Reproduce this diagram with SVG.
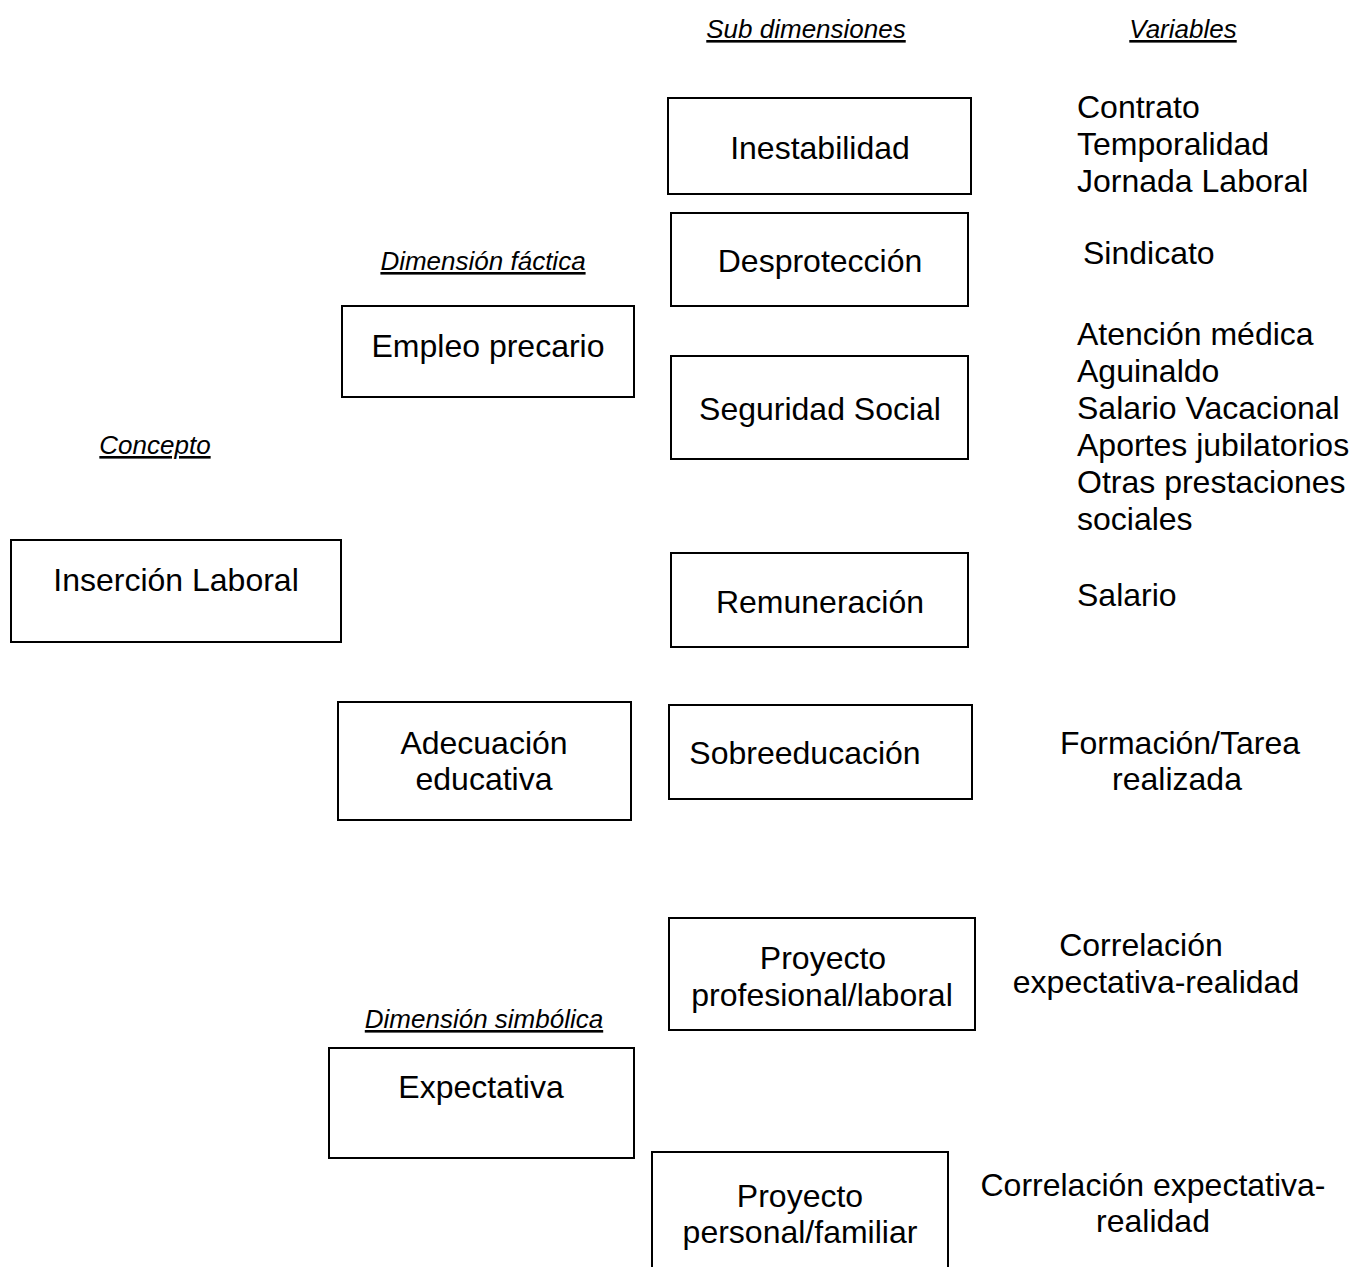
<svg xmlns="http://www.w3.org/2000/svg" width="1353" height="1267" viewBox="0 0 1353 1267">
<style>
text{font-family:"Liberation Sans",Arial,sans-serif;fill:#000}
.t{font-size:32px}
.h{font-size:26px;font-style:italic;text-decoration:underline}
.m{text-anchor:middle}
.box{fill:#fff;stroke:#000;stroke-width:2}
</style>
<rect x="0" y="0" width="1353" height="1267" fill="#fff"/>
<g id="headers">
<text class="h m" x="806" y="38">Sub dimensiones</text>
<text class="h m" x="1183" y="38">Variables</text>
<text class="h m" x="483" y="270">Dimensión fáctica</text>
<text class="h m" x="155" y="454">Concepto</text>
<text class="h m" x="484" y="1028">Dimensión simbólica</text>
</g>
<g id="connectors"></g>
<g id="n-insercion"><rect class="box" x="11" y="540" width="330" height="102"/><text class="t m" x="176" y="591">Inserción Laboral</text></g>
<g id="n-empleo"><rect class="box" x="342" y="306" width="292" height="91"/><text class="t m" x="488" y="357">Empleo precario</text></g>
<g id="n-adecuacion"><rect class="box" x="338" y="702" width="293" height="118"/><text class="t m" x="484" y="754">Adecuación</text><text class="t m" x="484" y="790">educativa</text></g>
<g id="n-expectativa"><rect class="box" x="329" y="1048" width="305" height="110"/><text class="t m" x="481" y="1098">Expectativa</text></g>
<g id="n-inestabilidad"><rect class="box" x="668" y="98" width="303" height="96"/><text class="t m" x="820" y="159">Inestabilidad</text></g>
<g id="n-desproteccion"><rect class="box" x="671" y="213" width="297" height="93"/><text class="t m" x="820" y="272">Desprotección</text></g>
<g id="n-seguridad"><rect class="box" x="671" y="356" width="297" height="103"/><text class="t m" x="820" y="420">Seguridad Social</text></g>
<g id="n-remuneracion"><rect class="box" x="671" y="553" width="297" height="94"/><text class="t m" x="820" y="613">Remuneración</text></g>
<g id="n-sobreeducacion"><rect class="box" x="669" y="705" width="303" height="94"/><text class="t m" x="805" y="764">Sobreeducación</text></g>
<g id="n-profesional"><rect class="box" x="669" y="918" width="306" height="112"/><text class="t m" x="823" y="969">Proyecto</text><text class="t m" x="822" y="1006">profesional/laboral</text></g>
<g id="n-personal"><rect class="box" x="652" y="1152" width="296" height="130"/><text class="t m" x="800" y="1207">Proyecto</text><text class="t m" x="800" y="1243">personal/familiar</text></g>
<g id="variables">
<text class="t" x="1077" y="118">Contrato</text>
<text class="t" x="1077" y="155">Temporalidad</text>
<text class="t" x="1077" y="192">Jornada Laboral</text>
<text class="t" x="1083" y="264">Sindicato</text>
<text class="t" x="1077" y="345">Atención médica</text>
<text class="t" x="1077" y="382">Aguinaldo</text>
<text class="t" x="1077" y="419">Salario Vacacional</text>
<text class="t" x="1077" y="456">Aportes jubilatorios</text>
<text class="t" x="1077" y="493">Otras prestaciones</text>
<text class="t" x="1077" y="530">sociales</text>
<text class="t" x="1077" y="606">Salario</text>
<text class="t m" x="1180" y="754">Formación/Tarea</text>
<text class="t m" x="1177" y="790">realizada</text>
<text class="t m" x="1141" y="956">Correlación</text>
<text class="t m" x="1156" y="993">expectativa-realidad</text>
<text class="t m" x="1153" y="1196">Correlación expectativa-</text>
<text class="t m" x="1153" y="1232">realidad</text>
</g>
</svg>
